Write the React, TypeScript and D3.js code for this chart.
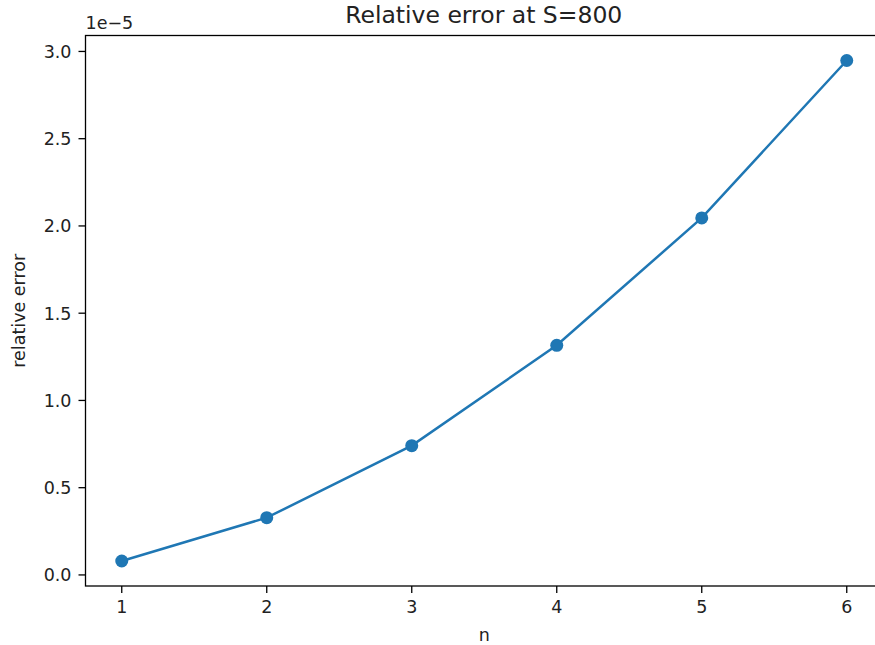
import React from "react";
import * as d3 from "d3";

const nValues = [1, 2, 3, 4, 5, 6];
const relError = [0.08, 0.328, 0.741, 1.316, 2.046, 2.948]; // ×1e-5
const xTicks = [1, 2, 3, 4, 5, 6];
const yTicks = [0, 0.5, 1.0, 1.5, 2.0, 2.5, 3.0];

const W = 875;
const H = 645;
const M = { left: 85.5, right: 883, top: 35.5, bottom: 586 };
const FONT = "DejaVu Sans, sans-serif";
const COLOR = "#1f77b4";
const TICK_FS = 17.5;

export default function App() {
  const x = d3.scaleLinear().domain([0.75, 6.25]).range([M.left, M.right]);
  const yMin = 0.08 - 0.05 * (2.948 - 0.08);
  const yMax = 2.948 + 0.05 * (2.948 - 0.08);
  const y = d3.scaleLinear().domain([yMin, yMax]).range([M.bottom, M.top]);
  const line = d3
    .line<number>()
    .x((_, i) => x(nValues[i]))
    .y((d) => y(d));

  return (
    <svg
      width={W}
      height={H}
      style={{ position: "absolute", left: 0, top: 0, background: "#fff" }}
      fontFamily={FONT}
    >
      <rect x={0} y={0} width={W} height={H} fill="#fff" />
      <path d={line(relError) || ""} fill="none" stroke={COLOR} strokeWidth={2.5} />
      {relError.map((v, i) => (
        <circle key={i} cx={x(nValues[i])} cy={y(v)} r={6.5} fill={COLOR} />
      ))}
      {/* spines */}
      <rect
        x={M.left}
        y={M.top}
        width={M.right - M.left}
        height={M.bottom - M.top}
        fill="none"
        stroke="#000"
        strokeWidth={1.3}
      />
      {xTicks.map((t) => (
        <g key={t} transform={`translate(${x(t)},${M.bottom})`}>
          <line y1={0} y2={7} stroke="#000" strokeWidth={1.3} />
          <text y={27} textAnchor="middle" fontSize={TICK_FS} fill="#222">
            {t}
          </text>
        </g>
      ))}
      {yTicks.map((t) => (
        <g key={t} transform={`translate(${M.left},${y(t)})`}>
          <line x1={0} x2={-7} stroke="#000" strokeWidth={1.3} />
          <text x={-14} dy="0.36em" textAnchor="end" fontSize={TICK_FS} fill="#222">
            {t.toFixed(1)}
          </text>
        </g>
      ))}
      <text x={M.left} y={29} fontSize={TICK_FS} fill="#222">
        1e−5
      </text>
      <text x={(M.left + M.right) / 2 - 0.5} y={23} textAnchor="middle" fontSize={23.5} fill="#222">
        Relative error at S=800
      </text>
      <text x={(M.left + M.right) / 2} y={641} textAnchor="middle" fontSize={TICK_FS} fill="#222">
        n
      </text>
      <text
        transform={`translate(25,${(M.top + M.bottom) / 2}) rotate(-90)`}
        textAnchor="middle"
        fontSize={TICK_FS}
        fill="#222"
      >
        relative error
      </text>
    </svg>
  );
}
